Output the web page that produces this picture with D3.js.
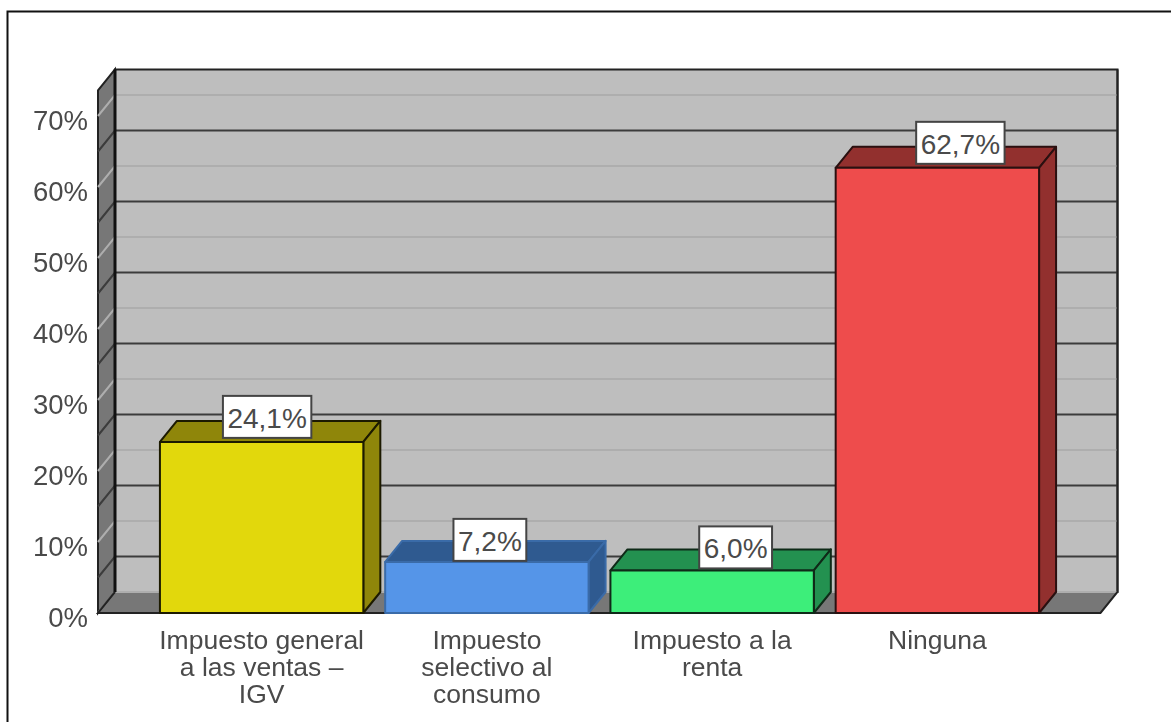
<!DOCTYPE html>
<html>
<head>
<meta charset="utf-8">
<script src="https://cdnjs.cloudflare.com/ajax/libs/d3/7.8.5/d3.min.js"></script>
<style>
  html, body { margin: 0; padding: 0; background: #fff; }
  svg { display: block; filter: blur(0.6px); font-family: "Liberation Sans", Arial, sans-serif; }
</style>
</head>
<body>
<div id="chart"></div>
<script>
// Data
const categories = ["IGV", "ISC", "Renta", "Ninguna"];
const categoryLines = [
    ["Impuesto general", "a las ventas –", "IGV"],
    ["Impuesto", "selectivo al", "consumo"],
    ["Impuesto a la", "renta"],
    ["Ninguna"]
];
const values = [24.1, 7.2, 6.0, 62.7];
const valueLabels = ["24,1%", "7,2%", "6,0%", "62,7%"];
const yTicks = [0, 10, 20, 30, 40, 50, 60, 70];
const minorTicks = [5, 15, 25, 35, 45, 55, 65];

// Bar colours: front, top/side, outline
const frontColors = ["#e2d80c", "#5595e8", "#3dee7a", "#ee4c4c"];
const shadeColors = ["#8f860a", "#2f5a90", "#239150", "#92302e"];
const edgeColors = ["#1c1a00", "#3a6ba8", "#0f2a18", "#2a1010"];

// Label boxes do not sit centred on the bars in the original
const labelShift = [5.5, 3, 23.5, 23];
const labelGap = [4, 1, 2, 4];

const width = 1171;
const height = 722;
const depthX = 17;
const depthY = -21;
const textColor = "#4a4a4a";
const lineColor = "#222";

const svg = d3.select("#chart")
    .append("svg")
    .attr("width", width)
    .attr("height", height);

// Outer frame: left and top edges only, the right and bottom are cropped away
svg.append("path")
    .attr("d", `M7.5,${height} V11.5 H${width}`)
    .attr("fill", "none")
    .attr("stroke", "#111")
    .attr("stroke-width", 2);

// Scales work on the front plane, the back wall is offset by the depth
const y = d3.scaleLinear().domain([0, 70]).range([613, 116]);
const x = d3.scaleBand()
    .domain(categories)
    .range([149, 1050])
    .paddingInner(0.097)
    .paddingOuter(0.0485);

const yTop = 73.6;
const left = 98;
const right = 1100.5;

const poly = pts => "M" + pts.map(p => p.join(",")).join("L") + "Z";

// Back wall
svg.append("path")
    .attr("d", poly([
        [left + depthX, y(0) + depthY],
        [left + depthX, y(yTop) + depthY],
        [right + depthX, y(yTop) + depthY],
        [right + depthX, y(0) + depthY]
    ]))
    .attr("fill", "#bebebe")
    .attr("stroke", lineColor)
    .attr("stroke-width", 2);

// Left side wall
svg.append("path")
    .attr("d", poly([
        [left, y(0)],
        [left, y(yTop)],
        [left + depthX, y(yTop) + depthY],
        [left + depthX, y(0) + depthY]
    ]))
    .attr("fill", "#777")
    .attr("stroke", lineColor)
    .attr("stroke-width", 2);

// Floor
svg.append("path")
    .attr("d", poly([
        [left, y(0)],
        [left + depthX, y(0) + depthY],
        [right + depthX, y(0) + depthY],
        [right, y(0)]
    ]))
    .attr("fill", "#777");

// Gridlines: light at the labelled ticks, dark half way between them
const drawGrid = (ticks, color, w) => {
    const g = svg.append("g")
        .attr("fill", "none")
        .attr("stroke", color)
        .attr("stroke-width", w);
    g.selectAll("path")
        .data(ticks)
        .enter()
        .append("path")
        .attr("d", d => `M${left},${y(d)} L${left + depthX},${y(d) + depthY} H${right + depthX}`);
};
drawGrid(yTicks, "#aeaeae", 2);
drawGrid(minorTicks, "#3c3c3c", 2);

// Redraw the edges over the gridlines
svg.append("path")
    .attr("d", `M${left + depthX},${y(yTop) + depthY} V${y(0) + depthY}`)
    .attr("stroke", "#111")
    .attr("stroke-width", 3);
svg.append("path")
    .attr("d", `M${left + depthX},${y(0) + depthY} L${left},${y(0)} H${right} L${right + depthX},${y(0) + depthY} V${y(yTop) + depthY}`)
    .attr("fill", "none")
    .attr("stroke", lineColor)
    .attr("stroke-width", 2);

// Bars
const rows = categories.map((c, i) => ({ c, i, v: values[i] }));
const bars = svg.selectAll("g.bar")
    .data(rows)
    .enter()
    .append("g")
    .attr("class", "bar")
    .attr("stroke", d => edgeColors[d.i])
    .attr("stroke-width", 2)
    .attr("stroke-linejoin", "round");

// Top face
bars.append("path")
    .attr("fill", d => shadeColors[d.i])
    .attr("d", d => {
        const x0 = x(d.c), x1 = x0 + x.bandwidth(), t = y(d.v);
        return poly([[x0, t], [x0 + depthX, t + depthY], [x1 + depthX, t + depthY], [x1, t]]);
    });

// Side face
bars.append("path")
    .attr("fill", d => shadeColors[d.i])
    .attr("d", d => {
        const x1 = x(d.c) + x.bandwidth(), t = y(d.v);
        return poly([[x1, t], [x1 + depthX, t + depthY], [x1 + depthX, y(0) + depthY], [x1, y(0)]]);
    });

// Front face
bars.append("rect")
    .attr("x", d => x(d.c))
    .attr("y", d => y(d.v))
    .attr("width", x.bandwidth())
    .attr("height", d => y(0) - y(d.v))
    .attr("fill", d => frontColors[d.i]);

// Value labels in white boxes
const labels = svg.selectAll("g.value")
    .data(rows)
    .enter()
    .append("g")
    .attr("class", "value")
    .attr("transform", d => `translate(${x(d.c) + x.bandwidth() / 2 + labelShift[d.i]},${y(d.v) - labelGap[d.i] - 21})`);

const labelText = labels.append("text")
    .attr("text-anchor", "middle")
    .attr("y", 11)
    .attr("font-size", 28)
    .attr("fill", textColor)
    .text(d => valueLabels[d.i]);

labels.insert("rect", "text")
    .each(function (d, i) {
        const w = labelText.nodes()[i].getComputedTextLength() + 9;
        d3.select(this)
            .attr("x", -w / 2)
            .attr("y", -21)
            .attr("width", w)
            .attr("height", 42);
    })
    .attr("fill", "#fff")
    .attr("stroke", "#444")
    .attr("stroke-width", 2);

// Y axis labels
const yAxis = svg.append("g")
    .attr("transform", "translate(88,0)")
    .call(d3.axisLeft(y).tickValues(yTicks).tickSize(0).tickPadding(0).tickFormat(d => d + "%"));
yAxis.select(".domain").remove();
yAxis.selectAll("text")
    .attr("font-family", "inherit")
    .attr("font-size", 27.5)
    .attr("fill", textColor)
    .attr("dy", "0.68em")
    .attr("y", -5);

// Category labels, wrapped by hand as in the original
const xAxis = svg.append("g")
    .attr("transform", "translate(0,613)")
    .call(d3.axisBottom(x).tickSize(0).tickFormat(""));
xAxis.select(".domain").remove();
xAxis.selectAll("text")
    .attr("font-family", "inherit")
    .attr("font-size", 26.5)
    .attr("fill", textColor)
    .attr("y", 36)
    .attr("dy", null)
    .each(function (d, i) {
        d3.select(this).selectAll("tspan")
            .data(categoryLines[i])
            .enter()
            .append("tspan")
            .attr("x", 0)
            .attr("dy", (l, k) => k ? 27 : 0)
            .text(l => l);
    });
</script>
</body>
</html>
